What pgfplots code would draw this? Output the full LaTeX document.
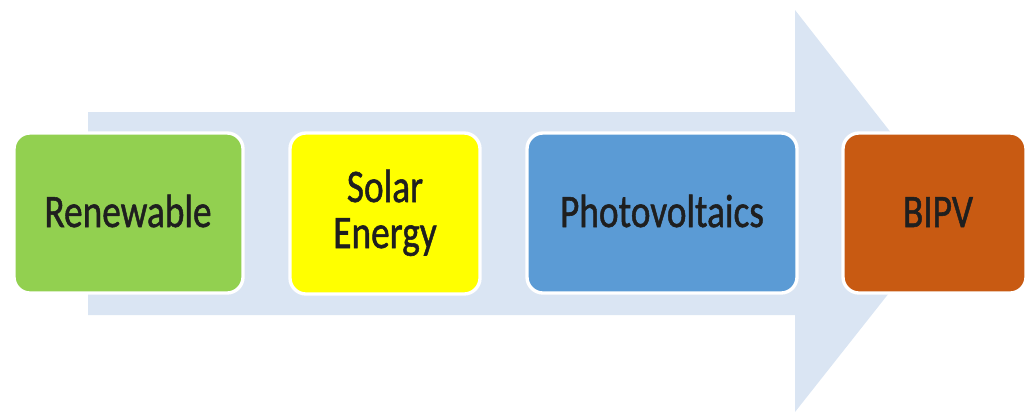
\documentclass[border=0pt]{standalone}
\usepackage{pgfplots}
\pgfplotsset{compat=1.18}
\usepackage{fontspec}
\setmainfont{Carlito}
\newfontfamily\lblfont{Carlito}[FakeBold=1.2]
\definecolor{arrowblue}{HTML}{DAE5F3}
\definecolor{cgreen}{HTML}{92D050}
\definecolor{cyellow}{HTML}{FFFF00}
\definecolor{cblue}{HTML}{5B9BD5}
\definecolor{corange}{HTML}{C85A12}
\newcommand{\lbl}[1]{\scalebox{1}[1.25]{\lblfont\fontsize{28}{30}\selectfont #1}}
\begin{document}
\begin{tikzpicture}
\begin{axis}[
  scale only axis, width=770.25pt, height=310.5pt,
  xmin=0, xmax=1027, ymin=0, ymax=414, y dir=reverse,
  hide axis, clip=true,
]
% arrow
\addplot[fill=arrowblue, draw=none] coordinates {
  (88,112) (795,112) (795,10) (953,212) (795,412) (795,315) (88,315)} -- cycle;
% boxes
\addplot[fill=cgreen, draw=white, line width=2.5pt, rounded corners=12pt] coordinates {
  (14,133) (243,133) (243,293) (14,293)} -- cycle;
\addplot[fill=cyellow, draw=white, line width=2.5pt, rounded corners=12pt] coordinates {
  (290,133) (480,133) (480,294) (290,294)} -- cycle;
\addplot[fill=cblue, draw=white, line width=2.5pt, rounded corners=12pt] coordinates {
  (527,133) (797,133) (797,293) (527,293)} -- cycle;
\addplot[fill=corange, draw=white, line width=2.5pt, rounded corners=12pt] coordinates {
  (843,133) (1026,133) (1026,293) (843,293)} -- cycle;
\node[anchor=base, inner sep=0pt, text=black!88] at (axis cs:128,227) {\lbl{Renewable}};
\node[anchor=base, inner sep=0pt, text=black!88] at (axis cs:385,202) {\lbl{Solar}};
\node[anchor=base, inner sep=0pt, text=black!88] at (axis cs:385,248) {\lbl{Energy}};
\node[anchor=base, inner sep=0pt, text=black!88] at (axis cs:662,227) {\lbl{Photovoltaics}};
\node[anchor=base, inner sep=0pt, text=black!88] at (axis cs:938,227) {\lbl{BIPV}};
\end{axis}
\pgfresetboundingbox
\useasboundingbox (current axis.south west) rectangle (current axis.north east);
\end{tikzpicture}
\end{document}
